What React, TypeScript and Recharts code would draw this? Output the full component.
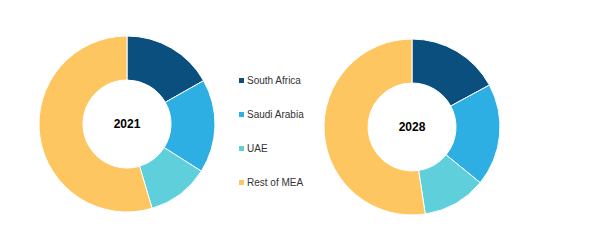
import { Cell, Label, Pie, PieChart } from "recharts";

const categories = ["South Africa", "Saudi Arabia", "UAE", "Rest of MEA"];
const share2021 = [16.8, 17.2, 11.4, 54.6];
const share2028 = [17.1, 18.8, 11.7, 52.4];
const colors = ["#0b4f7f", "#2eafe3", "#5fcfdc", "#fec660"];

const data2021 = categories.map((name, i) => ({ name, value: share2021[i] }));
const data2028 = categories.map((name, i) => ({ name, value: share2028[i] }));

const SIZE = 180;

function LegendList() {
  return (
    <div style={{ position: "absolute", left: 239, top: 74, display: "flex", flexDirection: "column", gap: 22 }}>
      {categories.map((name, i) => (
        <div
          key={name}
          style={{ display: "flex", alignItems: "center", fontSize: 10, color: "#333", height: 12 }}
        >
          <span style={{ width: 5, height: 5, background: colors[i], marginRight: 3, display: "inline-block" }} />
          {name}
        </div>
      ))}
    </div>
  );
}

function YearPie({ data, year, cx, cy }: { data: { name: string; value: number }[]; year: string; cx: number; cy: number }) {
  return (
    <div style={{ position: "absolute", left: cx - SIZE / 2, top: cy - SIZE / 2 }}>
      <PieChart width={SIZE} height={SIZE} margin={{ top: 0, right: 0, bottom: 0, left: 0 }}>
        <Pie
          data={data}
          dataKey="value"
          nameKey="name"
          innerRadius={44}
          outerRadius={88}
          startAngle={90}
          endAngle={-270}
          stroke="#ffffff"
          strokeWidth={1}
          isAnimationActive={false}
        >
          {data.map((d, i) => (
            <Cell key={d.name} fill={colors[i]} />
          ))}
          <Label value={year} position="center" fill="#000" fontSize={12} fontWeight={700} />
        </Pie>
      </PieChart>
    </div>
  );
}

export default function App() {
  return (
    <div style={{ position: "absolute", left: 0, top: 0, width: 600, height: 246, background: "#fff", fontFamily: "'Liberation Sans', Arial, sans-serif" }}>
      <YearPie data={data2021} year="2021" cx={127} cy={124} />
      <YearPie data={data2028} year="2028" cx={412} cy={127} />
      <LegendList />
    </div>
  );
}
